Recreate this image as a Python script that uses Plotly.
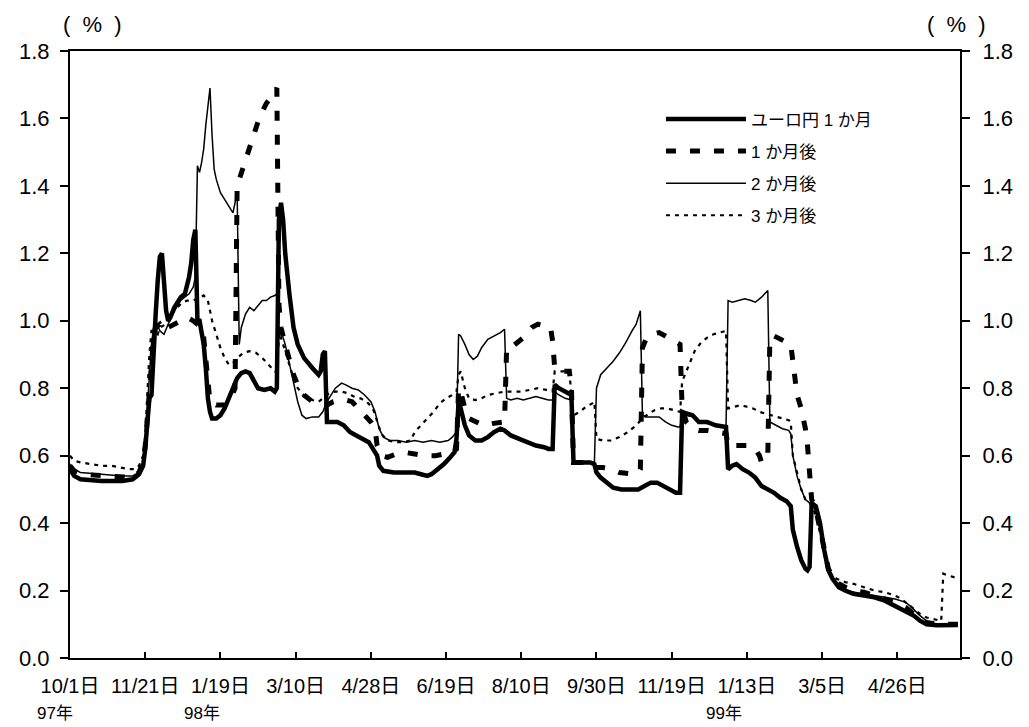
import plotly.graph_objects as go

# ---------------- data (business-day index from 1997/10/1, rate in %) ----------------
tick_days = [0, 36, 72, 108, 144, 180, 216, 252, 288, 324, 360, 396]
tick_labels = ["10/1日", "11/21日", "1/19日", "3/10日", "4/28日", "6/19日",
               "8/10日", "9/30日", "11/19日", "1/13日", "3/5日", "4/26日"]
year_labels = ["97年", "98年", "99年"]

series_names = ["ユーロ円 1 か月", "1 か月後", "2 か月後", "3 か月後"]

days_a = [0,2,5,15,25,30,33,35,36,37,38,39,40,41,42,43,44,45,46,47,48,50,53,55,56,57,58,59,60,61,
          62,63,64,65,66,67,68,70,72,74,76,78,80,82,84,86,88,90,93,96,98,99,100,101,102,103,105,107,109,112,
          116,119,120,121,122,123,125,128,131,134,137,140,143,145,147,148,150,155,160,165,
          168,171,173,176,179,182,184,185,186,187,189,191,194,197,200,203,206,208,211,215,
          219,223,227,229,231,232,234,237,240,241,245,249,251,252,254,257,260,264,268,272,
          275,278,281,284,287,290,292,293,295,298,301,305,309,313,314,315,317,319,322,325,
          328,331,334,337,340,343,345,346,348,350,352,353,354,355,357,359,361,363,365,368,
          371,375,380,385,390,395,400,404,407,410,415,420,425]
rate_a = [0.56,0.54,0.53,0.525,0.525,0.53,0.545,0.57,0.62,0.70,
          0.77,0.78,0.94,1.02,1.12,1.19,1.20,1.12,1.03,1.00,
          1.01,1.04,1.07,1.08,1.10,1.13,1.17,1.24,1.27,1.00,
          1.00,0.97,0.93,0.86,0.77,0.73,0.71,0.71,0.72,0.74,
          0.77,0.80,0.83,0.845,0.85,0.845,0.82,0.80,0.795,0.80,
          0.79,0.80,1.30,1.35,1.30,1.20,1.08,0.98,0.93,0.89,
          0.86,0.84,0.85,0.90,0.91,0.70,0.70,0.70,0.69,0.67,
          0.66,0.65,0.64,0.62,0.60,0.57,0.555,0.55,0.55,0.55,
          0.545,0.54,0.545,0.56,0.575,0.595,0.61,0.65,0.76,0.74,
          0.69,0.66,0.645,0.645,0.655,0.67,0.68,0.675,0.66,0.65,
          0.64,0.63,0.625,0.62,0.62,0.81,0.80,0.79,0.78,0.58,
          0.58,0.58,0.575,0.55,0.535,0.52,0.505,0.50,0.50,0.50,
          0.51,0.52,0.52,0.51,0.50,0.49,0.49,0.73,0.725,0.72,
          0.70,0.70,0.69,0.685,0.685,0.56,0.57,0.575,0.56,0.55,
          0.535,0.51,0.50,0.49,0.475,0.465,0.45,0.38,0.33,0.29,
          0.265,0.26,0.27,0.46,0.45,0.40,0.32,0.26,0.235,0.21,
          0.20,0.19,0.185,0.18,0.17,0.155,0.14,0.125,0.11,0.10,
          0.097,0.097,0.098]

days_b = [0,2,5,15,25,30,33,35,36,37,38,39,40,41,43,45,47,50,53,56,
          59,61,63,64,65,66,67,70,74,77,79,80,82,84,86,88,90,92,94,96,
          98,99,100,101,103,105,107,109,112,116,120,123,126,129,132,135,138,141,144,146,
          147,149,152,156,160,165,170,175,180,183,185,186,187,189,191,194,198,202,206,208,
          209,211,214,217,219,221,224,227,230,231,232,234,237,239,240,241,245,249,251,252,
          255,259,263,267,270,272,273,274,276,279,282,285,288,291,292,293,295,298,301,305,
          309,313,314,315,318,322,326,328,330,331,333,334,335,337,340,343,345,346,347,348,
          350,352,353,354,355,357,359,361,363,365,368,371,375,380,385,390,395,400,404,407,
          410,415,420,425]
rate_b = [0.57,0.555,0.545,0.54,0.535,0.535,0.55,0.58,0.63,0.72,
          0.80,0.86,0.95,0.98,0.99,0.97,0.98,0.99,1.00,1.01,
          1.00,0.99,0.98,0.95,0.88,0.80,0.76,0.75,0.75,0.77,
          0.80,1.40,1.44,1.48,1.52,1.56,1.59,1.62,1.645,1.66,
          1.68,1.69,1.05,0.98,0.93,0.88,0.84,0.81,0.78,0.76,
          0.75,0.75,0.76,0.765,0.765,0.76,0.74,0.72,0.70,0.68,
          0.63,0.60,0.595,0.605,0.61,0.605,0.60,0.60,0.605,0.61,
          0.62,0.80,0.79,0.74,0.71,0.70,0.69,0.695,0.70,0.70,
          0.92,0.92,0.935,0.95,0.965,0.98,0.99,0.985,0.98,0.94,
          0.86,0.85,0.85,0.85,0.80,0.58,0.58,0.58,0.575,0.565,
          0.565,0.56,0.55,0.545,0.545,0.55,0.56,0.92,0.95,0.96,
          0.965,0.955,0.945,0.935,0.93,0.74,0.70,0.68,0.675,0.675,
          0.67,0.665,0.665,0.63,0.63,0.63,0.63,0.62,0.60,0.58,
          0.585,0.60,0.95,0.955,0.945,0.935,0.93,0.88,0.82,0.78,
          0.74,0.68,0.63,0.55,0.47,0.44,0.38,0.31,0.265,0.24,
          0.22,0.21,0.20,0.195,0.185,0.175,0.165,0.15,0.13,0.115,
          0.105,0.10,0.10,0.10]

days_c = [0,2,5,15,25,30,33,35,36,37,38,39,40,41,43,45,47,50,53,55,
          57,59,60,61,62,63,64,65,66,67,68,69,70,72,74,76,78,79,80,81,
          82,84,86,88,90,92,94,96,98,99,100,101,103,105,107,109,111,113,116,119,
          121,123,125,127,130,132,135,138,141,144,146,148,150,153,157,161,165,169,173,177,
          181,183,185,186,187,189,191,193,195,197,200,203,206,208,209,211,214,217,220,223,
          226,229,231,232,234,237,240,241,245,249,251,252,254,257,260,263,266,269,271,273,
          274,276,279,282,285,288,291,292,293,295,298,301,305,309,313,314,315,317,320,323,
          326,328,331,334,335,338,341,344,345,346,348,350,352,354,356,358,360,362,364,367,
          371,375,380,385,390,395,400,403,406,409,412,416,420,425]
rate_c = [0.575,0.56,0.55,0.545,0.54,0.54,0.55,0.58,0.64,0.74,
          0.84,0.93,0.98,1.00,0.97,0.96,0.99,1.03,1.06,1.07,
          1.08,1.10,1.13,1.46,1.44,1.47,1.51,1.58,1.64,1.69,
          1.55,1.45,1.42,1.38,1.36,1.34,1.32,1.35,1.38,0.93,
          0.98,1.02,1.04,1.03,1.045,1.06,1.06,1.07,1.075,1.08,
          0.95,0.97,0.93,0.87,0.81,0.76,0.72,0.71,0.715,0.715,
          0.73,0.76,0.78,0.80,0.815,0.81,0.80,0.795,0.78,0.76,
          0.73,0.68,0.655,0.645,0.645,0.64,0.645,0.64,0.645,0.64,
          0.645,0.655,0.67,0.96,0.955,0.93,0.90,0.885,0.895,0.92,
          0.945,0.955,0.965,0.975,0.77,0.765,0.77,0.765,0.77,0.775,
          0.77,0.765,0.765,0.79,0.78,0.77,0.765,0.58,0.58,0.58,
          0.58,0.80,0.84,0.86,0.88,0.905,0.935,0.97,0.99,1.03,
          0.72,0.715,0.715,0.715,0.70,0.69,0.685,0.685,0.72,0.72,
          0.715,0.70,0.695,0.69,0.685,0.685,1.06,1.055,1.06,1.065,
          1.06,1.055,1.07,1.09,0.70,0.69,0.68,0.675,0.665,0.60,
          0.54,0.50,0.47,0.46,0.45,0.42,0.36,0.29,0.25,0.22,
          0.20,0.195,0.19,0.185,0.18,0.175,0.165,0.15,0.13,0.115,
          0.10,0.095,0.097,0.10]

days_d = [0,2,5,10,15,20,25,28,31,33,35,36,37,38,39,40,42,43,46,50,
          53,56,59,62,64,66,67,68,70,72,74,76,78,80,83,86,89,92,95,98,
          99,100,101,103,105,107,109,112,116,119,121,124,127,130,133,136,139,142,145,147,
          149,152,156,160,163,165,168,171,174,177,180,183,185,186,187,189,191,194,197,200,
          204,208,212,216,220,224,228,231,232,234,237,239,240,241,244,247,250,251,252,255,
          259,263,267,271,274,277,280,283,286,289,291,292,293,295,297,299,302,305,308,311,
          314,315,318,321,324,327,330,333,336,339,342,344,345,346,348,350,352,354,356,358,
          360,362,364,367,371,375,380,385,390,395,398,401,404,407,410,414,417,418,420,423,
          424]
rate_d = [0.60,0.585,0.58,0.575,0.57,0.57,0.565,0.56,0.56,0.57,
          0.60,0.66,0.78,0.90,0.97,0.97,0.96,0.98,0.99,1.03,
          1.05,1.06,1.06,1.07,1.075,1.06,1.03,1.00,0.96,0.92,
          0.89,0.87,0.875,0.89,0.905,0.91,0.905,0.89,0.87,0.85,
          0.85,0.95,0.95,0.91,0.87,0.83,0.80,0.78,0.765,0.76,
          0.77,0.785,0.79,0.79,0.785,0.775,0.77,0.76,0.74,0.70,
          0.665,0.645,0.64,0.64,0.645,0.67,0.69,0.71,0.73,0.755,
          0.77,0.78,0.79,0.84,0.85,0.80,0.77,0.765,0.77,0.78,
          0.785,0.79,0.79,0.79,0.795,0.80,0.795,0.79,0.85,0.85,
          0.85,0.85,0.78,0.72,0.73,0.745,0.755,0.76,0.65,0.645,
          0.645,0.655,0.67,0.69,0.71,0.725,0.735,0.74,0.74,0.735,
          0.73,0.73,0.82,0.85,0.88,0.91,0.935,0.95,0.96,0.965,
          0.97,0.74,0.745,0.75,0.745,0.74,0.73,0.725,0.72,0.715,
          0.71,0.705,0.70,0.60,0.55,0.50,0.47,0.46,0.44,0.40,
          0.34,0.28,0.25,0.235,0.225,0.22,0.21,0.20,0.195,0.185,
          0.175,0.16,0.145,0.13,0.12,0.115,0.11,0.25,0.245,0.24,
          0.24]

# ---------------- figure ----------------
FONT = "Arial, 'Liberation Sans', 'Noto Sans CJK JP', sans-serif"
styles = [
    dict(color="black", width=4.5),
    dict(color="black", width=5, dash="10px,14px"),
    dict(color="black", width=1.5),
    dict(color="black", width=2.2, dash="4px,5px"),
]
data = [(days_a, rate_a), (days_b, rate_b), (days_c, rate_c), (days_d, rate_d)]

fig = go.Figure()
for i, ((xs, ys), name, st) in enumerate(zip(data, series_names, styles)):
    fig.add_trace(go.Scatter(x=xs, y=ys, mode="lines", name=name, line=st,
                             legendgroup=f"g{i}", hoverinfo="skip"))
# invisible trace to activate the right-hand axis
fig.add_trace(go.Scatter(x=days_a, y=rate_a, mode="lines", yaxis="y2", showlegend=False,
                         line=dict(color="rgba(0,0,0,0)", width=0), hoverinfo="skip"))

axis_common = dict(showgrid=False, zeroline=False, showline=True, linecolor="black",
                   linewidth=2, tickcolor="black", tickwidth=2)
fig.update_layout(
    width=1029, height=727,
    margin=dict(l=70, r=69, t=51, b=69),
    paper_bgcolor="white", plot_bgcolor="white",
    font=dict(family=FONT, color="black", size=20),
    xaxis=dict(range=[0, 426], tickmode="array", tickvals=tick_days, ticktext=tick_labels,
               ticks="inside", ticklen=6, mirror=True, tickfont=dict(size=20),
               ticklabelstandoff=9, **axis_common),
    yaxis=dict(range=[0, 1.8], tick0=0, dtick=0.2, tickformat=".1f", ticks="outside",
               ticklen=8, tickfont=dict(size=22), ticklabelstandoff=6, **axis_common),
    yaxis2=dict(range=[0, 1.8], tick0=0, dtick=0.2, tickformat=".1f", ticks="outside",
                ticklen=8, tickfont=dict(size=22), overlaying="y", side="right",
                ticklabelstandoff=8, **axis_common),
    showlegend=True,
    legend=dict(x=0.664, y=0.917, xanchor="left", yanchor="top", bgcolor="rgba(0,0,0,0)",
                font=dict(size=17, family=FONT), traceorder="grouped", tracegroupgap=7,
                itemwidth=80),
)

annotations = [
    dict(text="(  %  )", x=0.025, y=1.043, xref="paper", yref="paper", showarrow=False,
         xanchor="center", yanchor="middle", font=dict(size=22)),
    dict(text="(  %  )", x=0.996, y=1.043, xref="paper", yref="paper", showarrow=False,
         xanchor="center", yanchor="middle", font=dict(size=22)),
]
for lbl, px in zip(year_labels, [-0.017, 0.148, 0.735]):
    annotations.append(dict(text=lbl, x=px, y=-0.091, xref="paper", yref="paper",
                            xanchor="center", yanchor="middle", showarrow=False,
                            font=dict(size=17)))
fig.update_layout(annotations=annotations)

fig.write_html("out.html", config={"displayModeBar": False},
               post_script="document.body.style.margin='0';")
